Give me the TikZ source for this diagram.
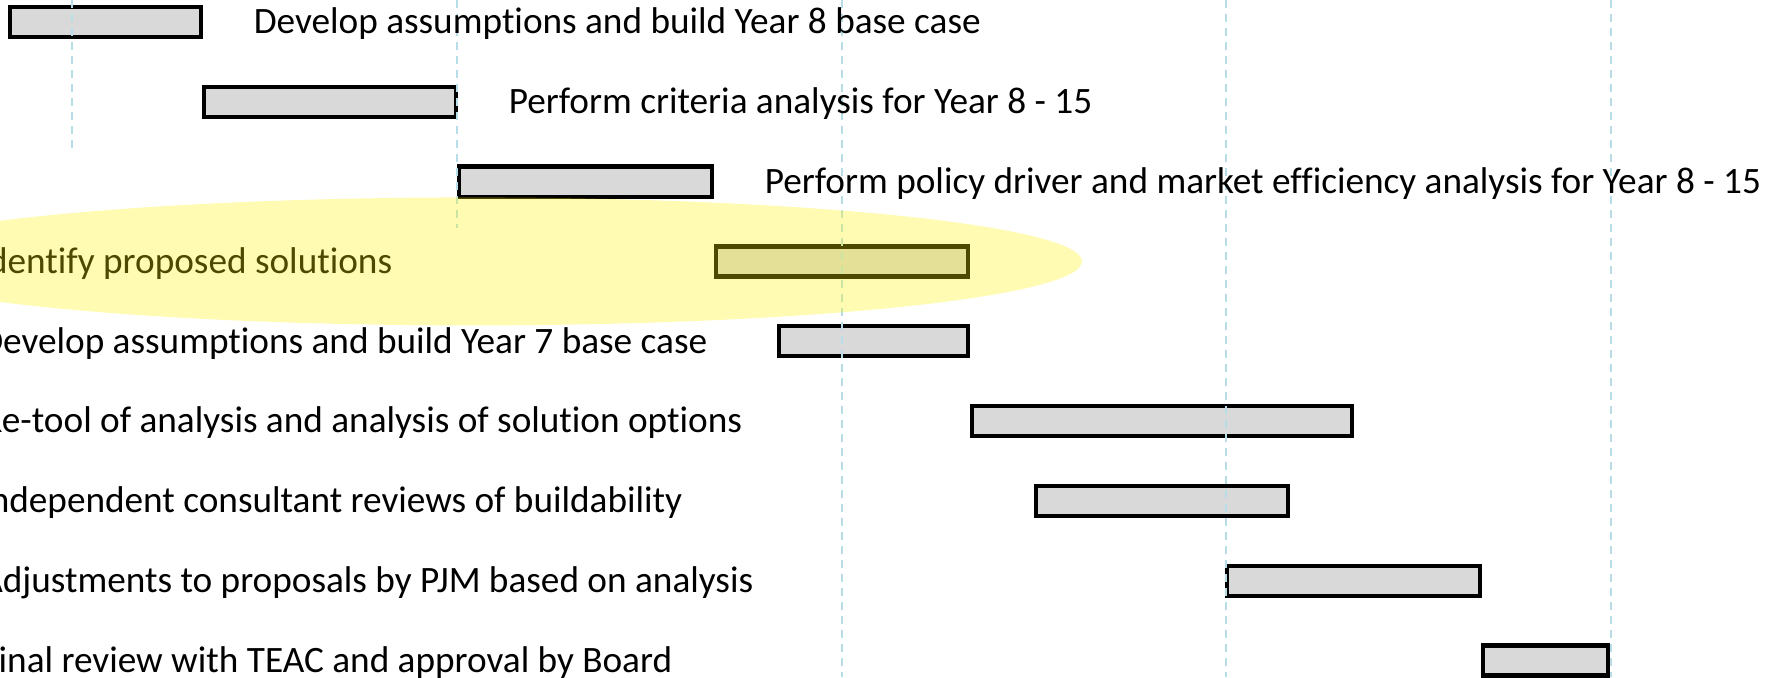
\documentclass[tikz,border=0pt]{standalone}
\usepackage{fontspec}
\setmainfont{Carlito}[Ligatures={NoCommon,NoContextual,NoRequired}]
\usepackage{tikz}
\usetikzlibrary{positioning}

\definecolor{gridblue}{HTML}{B7DEE8}
\definecolor{barfill}{HTML}{D9D9D9}

\tikzset{
  task/.style={draw=black, fill=barfill, line width=1.2pt, inner sep=0pt, minimum height=0.30cm},
  tasklabel/.style={inner sep=0pt, text height=8pt, text depth=1.2pt, font=\fontsize{10.6}{12}\selectfont},
  gridline/.style={gridblue, line width=0.6pt, dash pattern=on 0.08cm off 0.06cm},
}

\begin{document}
\begin{tikzpicture}
        \useasboundingbox (0, 0) rectangle (17.74, 6.77);
        \clip (0, 0) rectangle (17.74, 6.77);

        % bars
        \node[task, minimum width=1.91cm] (b1) at (1.055, 6.55) {};
        \node[task, minimum width=2.52cm] (b2) at (3.30, 5.752) {};
        \node[task, minimum width=2.53cm] (b3) at (5.855, 4.954) {};
        \node[task, minimum width=2.52cm] (b4) at (8.42, 4.156) {};
        \node[task, minimum width=1.89cm] (b5) at (8.735, 3.358) {};
        \node[task, minimum width=3.80cm] (b6) at (11.62, 2.56) {};
        \node[task, minimum width=2.52cm] (b7) at (11.62, 1.762) {};
        \node[task, minimum width=2.53cm] (b8) at (13.535, 0.964) {};
        \node[task, minimum width=1.25cm] (b9) at (15.455, 0.166) {};

        % time grid
        \draw[gridline] (0.72, 6.77) -- (0.72, 5.29);
        \draw[gridline] (4.57, 6.77) -- (4.57, 4.49);
        \draw[gridline] (8.42, 6.77) -- (8.42, 0);
        \draw[gridline] (12.26, 6.77) -- (12.26, 0);
        \draw[gridline] (16.11, 6.77) -- (16.11, 0);

        % labels
        \node[tasklabel, right=0.50cm of b1] (l1) {Develop assumptions and build Year 8 base case};
        \node[tasklabel, right=0.50cm of b2] (l2) {Perform criteria analysis for Year 8 - 15};
        \node[tasklabel, right=0.50cm of b3] (l3) {Perform policy driver and market efficiency analysis for Year 8 - 15};
        \node[tasklabel, anchor=east] (l4) at (3.93, 4.156) {Identify proposed solutions};
        \node[tasklabel, anchor=east] (l5) at (7.08, 3.358) {Develop assumptions and build Year 7 base case};
        \node[tasklabel, anchor=east] (l6) at (7.43, 2.56) {Re-tool of analysis and analysis of solution options};
        \node[tasklabel, anchor=east] (l7) at (6.83, 1.762) {Independent consultant reviews of buildability};
        \node[tasklabel, anchor=east] (l8) at (7.54, 0.964) {Adjustments to proposals by PJM based on analysis};
        \node[tasklabel, anchor=east] (l9) at (6.73, 0.166) {Final review with TEAC and approval by Board};

        % highlight
        \fill[yellow, fill opacity=0.3] (4.72, 4.156) ellipse [x radius=6.10, y radius=0.64];

\end{tikzpicture}
\end{document}
